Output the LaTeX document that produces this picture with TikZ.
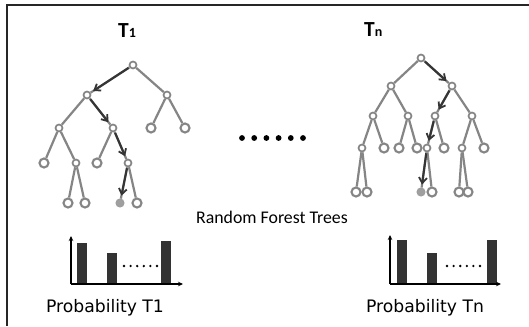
\documentclass[tikz,border=0pt]{standalone}
\usepackage{fontspec}
\setmainfont{Carlito}
\newfontfamily\dejavu{DejaVu Sans}
\usetikzlibrary{arrows.meta}
\definecolor{edgegray}{HTML}{858585}
\definecolor{arrgray}{HTML}{353535}
\definecolor{bargray}{HTML}{333333}
\tikzset{
  tn/.style={circle, draw=edgegray, fill=white, line width=1.7pt, minimum size=7pt, inner sep=0pt},
  lf/.style={circle, draw=edgegray, fill=white, line width=2.1pt, minimum size=9pt, inner sep=0pt},
  hit/.style={circle, draw=edgegray!80, fill=gray!75, line width=1pt, minimum size=8pt, inner sep=0pt},
  edge/.style={draw=edgegray, line width=2.2pt},
  arr/.style={draw=arrgray, line width=2.1pt, -{Straight Barb[length=5.5pt,width=8pt,line width=1.8pt]}, shorten >=3pt, shorten <=1pt},
  axis/.style={draw=black, line width=1.2pt, -{Stealth[length=5pt,width=4.5pt]}},
  bar/.style={fill=bargray},
  title/.style={font=\bfseries\fontsize{21.5}{21.5}\selectfont, anchor=base west, inner sep=0pt},
  plabel/.style={font=\dejavu\fontsize{17.2}{17.2}\selectfont, anchor=base},
}
\begin{document}
\begin{tikzpicture}[x=1pt,y=-1pt]
\useasboundingbox (0,0) rectangle (529,326);
\fill[white] (0,0) rectangle (529,326);
% frame
\draw[black!85, line width=1.6pt] (7,326) -- (7,5) -- (529,5);

% titles
\node[title] (t1) at (118,38) {T{\fontsize{14}{14}\selectfont 1}};
\node[title] (tn) at (364,37) {T{\fontsize{14}{14}\selectfont n}};

% ---------- Tree T1 ----------
\node[tn] (a0) at (133,65) {};
\node[tn] (a1) at (87,95) {};
\node[tn] (a2) at (167,95) {};
\node[tn] (a3) at (59,128) {};
\node[tn] (a4) at (113,128) {};
\node[lf] (a5) at (151,128) {};
\node[lf] (a6) at (185,128) {};
\node[lf] (a7) at (44,163) {};
\node[tn] (a8) at (76,163) {};
\node[lf] (a9) at (97,163) {};
\node[tn] (a10) at (128,163) {};
\node[lf] (a11) at (68,203) {};
\node[lf] (a12) at (85,203) {};
\node[hit] (a13) at (120,203) {};
\node[lf] (a14) at (137,203) {};
\draw[edge] (a0) -- (a1); \draw[edge] (a0) -- (a2);
\draw[edge] (a1) -- (a3); \draw[edge] (a1) -- (a4);
\draw[edge] (a2) -- (a5); \draw[edge] (a2) -- (a6);
\draw[edge] (a3) -- (a7); \draw[edge] (a3) -- (a8);
\draw[edge] (a4) -- (a9); \draw[edge] (a4) -- (a10);
\draw[edge] (a8) -- (a11); \draw[edge] (a8) -- (a12);
\draw[edge] (a10) -- (a13); \draw[edge] (a10) -- (a14);
\draw[arr] (a0) -- (a1);
\draw[arr] (a1) -- (a4);
\draw[arr] (a4) -- (a10);
\draw[arr] (a10) -- (a13);

% ---------- Tree Tn ----------
\node[tn] (b0) at (421,58) {};
\node[tn] (b1) at (391,86) {};
\node[tn] (b2) at (452,86) {};
\node[tn] (b3) at (373,116) {};
\node[tn] (b4) at (408,116) {};
\node[tn] (b5) at (435,116) {};
\node[tn] (b6) at (472,116) {};
\node[tn] (b7) at (362,148) {};
\node[lf] (b8) at (384,148) {};
\node[lf] (b9) at (399,148) {};
\node[lf] (b10) at (417,148) {};
\node[tn] (b11) at (427,148) {};
\node[lf] (b12) at (444,148) {};
\node[tn] (b13) at (462,148) {};
\node[lf] (b14) at (484,148) {};
\node[lf] (b15) at (356,192) {};
\node[lf] (b16) at (367,192) {};
\node[hit] (b17) at (421,192) {};
\node[lf] (b18) at (432,192) {};
\node[lf] (b19) at (459,192) {};
\node[lf] (b20) at (468,192) {};
\draw[edge] (b0) -- (b1); \draw[edge] (b0) -- (b2);
\draw[edge] (b1) -- (b3); \draw[edge] (b1) -- (b4);
\draw[edge] (b2) -- (b5); \draw[edge] (b2) -- (b6);
\draw[edge] (b3) -- (b7); \draw[edge] (b3) -- (b8);
\draw[edge] (b4) -- (b9); \draw[edge] (b4) -- (b10);
\draw[edge] (b5) -- (b11); \draw[edge] (b5) -- (b12);
\draw[edge] (b6) -- (b13); \draw[edge] (b6) -- (b14);
\draw[edge] (b7) -- (b15); \draw[edge] (b7) -- (b16);
\draw[edge] (b11) -- (b17); \draw[edge] (b11) -- (b18);
\draw[edge] (b13) -- (b19); \draw[edge] (b13) -- (b20);
\draw[arr] (b0) -- (b2);
\draw[arr] (b2) -- (b5);
\draw[arr] (b5) -- (b11);
\draw[arr] (b11) -- (b17);

% big dots
\foreach \i in {0,...,5} \fill (242+12.2*\i,138) circle (2.9pt);

% label
\node[font=\fontsize{17.8}{17.8}\selectfont, anchor=base] (rft) at (272,223) {Random Forest Trees};

% ---------- Histogram T1 ----------
\coordinate (o1) at (71,284);
\coordinate (y1) at (71,236);
\coordinate (x1) at (183,284);
\fill[bar] (77,284) rectangle (87,243);
\fill[bar] (107,284) rectangle (117,253);
\fill[bar] (161,284) rectangle (171,241);
\draw[axis] (o1) -- (y1);
\draw[axis] (o1) -- (x1);
\foreach \i in {0,...,5} \fill (124+6.6*\i,266) circle (1.3pt);
\node[plabel] (p1) at (105,312) {Probability T1};

% ---------- Histogram Tn ----------
\coordinate (o2) at (390,284);
\coordinate (y2) at (390,235);
\coordinate (x2) at (501,284);
\fill[bar] (397,284) rectangle (407,240);
\fill[bar] (427,284) rectangle (437,253);
\fill[bar] (487,284) rectangle (497,240);
\draw[axis] (o2) -- (y2);
\draw[axis] (o2) -- (x2);
\foreach \i in {0,...,5} \fill (447+6.6*\i,266) circle (1.3pt);
\node[plabel] (p2) at (425,312) {Probability Tn};
\end{tikzpicture}
\end{document}
